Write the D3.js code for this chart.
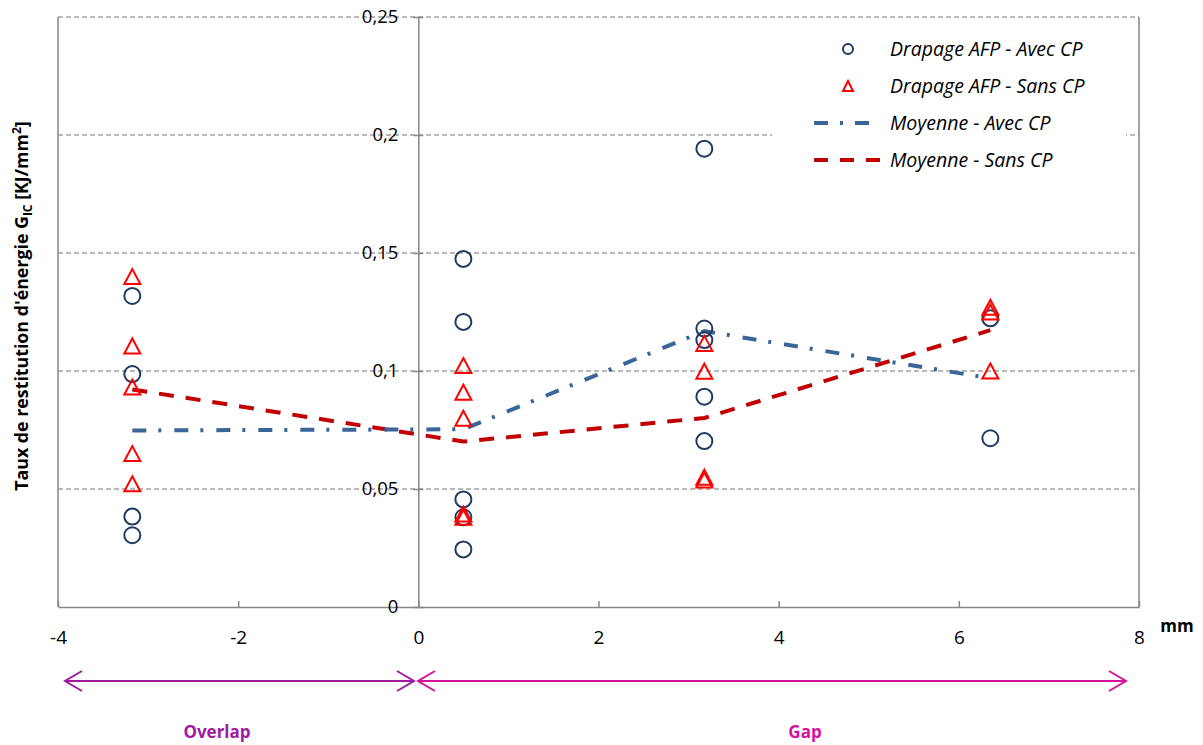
<!DOCTYPE html>
<html><head><meta charset="utf-8">
<script src="https://cdn.jsdelivr.net/npm/d3@7"></script>
<style>
body{margin:0;background:#fff;}
svg{font-family:"Open Sans",sans-serif;}
</style></head>
<body><svg id="c" width="1203" height="745"></svg>
<script>
// x positions (mm)
const xOverlap = -3.175, xGap1 = 0.5, xGap2 = 3.175, xGap3 = 6.35;
// Drapage AFP - Avec CP (circles)
const avecX = [-3.175,-3.175,-3.175,-3.175, 0.5,0.5,0.5,0.5,0.5, 3.175,3.175,3.175,3.175,3.175, 6.35,6.35];
const avecY = [0.1318,0.0987,0.0383,0.0304, 0.1475,0.1208,0.0456,0.038,0.0244, 0.1942,0.118,0.1131,0.0891,0.0703, 0.1223,0.0715];
// Drapage AFP - Sans CP (triangles)
const sansX = [-3.175,-3.175,-3.175,-3.175,-3.175, 0.5,0.5,0.5,0.5,0.5, 3.175,3.175,3.175,3.175, 6.35,6.35,6.35];
const sansY = [0.140,0.1106,0.0932,0.065,0.0522, 0.1023,0.091,0.080,0.0394,0.038, 0.1117,0.0999,0.0550,0.0538, 0.127,0.125,0.100];
// Moyennes
const meanX = [-3.175, 0.5, 3.175, 6.35];
const meanAvec = [0.0748, 0.0753, 0.1169, 0.0969];
const meanSans = [0.0922, 0.0701, 0.0801, 0.1173];
// ticks
const xTicks = [-4,-2,0,2,4,6,8];
const yTicks = [0,0.05,0.1,0.15,0.2,0.25];
const legendLabels = ["Drapage AFP - Avec CP","Drapage AFP - Sans CP","Moyenne - Avec CP","Moyenne - Sans CP"];

const svg = d3.select("#c");
const L=58, R=1139, T=17, B=607;
const x = d3.scaleLinear().domain([-4,8]).range([L,R]);
const y = d3.scaleLinear().domain([0,0.25]).range([B,T]);
const fmt = d => d===0 ? "0" : String(d).replace(".", ",");

// gridlines
svg.append("g").selectAll("line").data(yTicks.filter(d=>d>0)).join("line")
  .attr("x1",L).attr("x2",R).attr("y1",d=>y(d)).attr("y2",d=>y(d))
  .attr("stroke","#a0a0a0").attr("stroke-width",1.3).attr("stroke-dasharray","5,3");

// border left/right
svg.append("line").attr("x1",L).attr("x2",L).attr("y1",T).attr("y2",B).attr("stroke","#868686").attr("stroke-width",1.5);
svg.append("line").attr("x1",R).attr("x2",R).attr("y1",T).attr("y2",B).attr("stroke","#868686").attr("stroke-width",1.5);

// x axis
const xAxis = svg.append("g").attr("transform",`translate(0,${B})`)
  .call(d3.axisBottom(x).tickValues(xTicks).tickSizeInner(-6).tickSizeOuter(0).tickFormat(d=>String(d)));
xAxis.select(".domain").attr("stroke","#868686").attr("stroke-width",1.5);
xAxis.selectAll(".tick line").attr("stroke","#868686").attr("stroke-width",1.5);
xAxis.selectAll(".tick text").attr("font-size",19).attr("fill","#000").attr("y",30).attr("dy","0.35em")
  .attr("font-family","'Open Sans',sans-serif");

// y axis at x=0
const yAxis = svg.append("g").attr("transform",`translate(${x(0)},0)`)
  .call(d3.axisLeft(y).tickValues(yTicks).tickSize(5).tickSizeOuter(0).tickFormat(fmt));
yAxis.select(".domain").attr("stroke","#868686").attr("stroke-width",1.5);
yAxis.selectAll(".tick line").attr("stroke","#868686").attr("stroke-width",1.5).attr("x2",5).attr("x1",-5);
yAxis.selectAll(".tick text").attr("font-size",18.5).attr("fill","#000").attr("x",-20)
  .attr("font-family","'Open Sans',sans-serif");

// mean lines
const line = d3.line().x(d=>x(d[0])).y(d=>y(d[1]));
svg.append("path").datum(meanX.map((d,i)=>[d,meanSans[i]])).attr("d",line)
  .attr("fill","none").attr("stroke","#C00000").attr("stroke-width",4).attr("stroke-dasharray","15,12");
svg.append("path").datum(meanX.map((d,i)=>[d,meanAvec[i]])).attr("d",line)
  .attr("fill","none").attr("stroke","#3A6598").attr("stroke-width",4).attr("stroke-dasharray","14,12,3,13");

// circles
svg.append("g").selectAll("circle").data(avecX.map((d,i)=>[d,avecY[i]])).join("circle")
  .attr("cx",d=>x(d[0])).attr("cy",d=>y(d[1])).attr("r",8)
  .attr("fill","none").attr("stroke","#1F3A63").attr("stroke-width",2);

// triangles
const tri = (cx,cy,w,h)=>`M${cx},${cy-h/2}L${cx+w/2},${cy+h/2}L${cx-w/2},${cy+h/2}Z`;
svg.append("g").selectAll("path").data(sansX.map((d,i)=>[d,sansY[i]])).join("path")
  .attr("d",d=>tri(x(d[0]),y(d[1]),16,15))
  .attr("fill","none").attr("stroke","#FF0000").attr("stroke-width",2);

// legend
const lg = svg.append("g");
lg.append("rect").attr("x",772).attr("y",26).attr("width",354).attr("height",154).attr("fill","#fff");
const ly = [49,86,123,160];
lg.append("circle").attr("cx",848).attr("cy",ly[0]).attr("r",5).attr("fill","none").attr("stroke","#1F3A63").attr("stroke-width",2);
lg.append("path").attr("d",tri(848,ly[1],10,10)).attr("fill","none").attr("stroke","#FF0000").attr("stroke-width",2);
lg.append("line").attr("x1",814).attr("x2",881).attr("y1",ly[2]).attr("y2",ly[2])
  .attr("stroke","#3A6598").attr("stroke-width",4).attr("stroke-dasharray","14,12,3,12");
lg.append("line").attr("x1",814).attr("x2",881).attr("y1",ly[3]).attr("y2",ly[3])
  .attr("stroke","#C00000").attr("stroke-width",4).attr("stroke-dasharray","14,12");
lg.selectAll("text").data(legendLabels).join("text")
  .attr("x",890).attr("y",(d,i)=>ly[i]).attr("dy","0.35em")
  .attr("font-size",19.5).attr("font-style","italic").attr("fill","#000").text(d=>d);

// y title
const yt = svg.append("text").attr("transform","translate(28,306) rotate(-90)")
  .attr("text-anchor","middle").attr("font-size",17.8).attr("font-weight","bold").attr("fill","#000");
yt.append("tspan").text("Taux de restitution d'énergie G");
yt.append("tspan").attr("font-size",12).attr("dy",4).text("IC");
yt.append("tspan").attr("dy",-4).text(" [KJ/mm");
yt.append("tspan").attr("font-size",12).attr("dy",-7).text("2");
yt.append("tspan").attr("dy",7).text("]");

// mm
svg.append("text").attr("x",1177).attr("y",626).attr("dy","0.35em").attr("text-anchor","middle")
  .attr("font-size",17).attr("font-weight","bold").text("mm");

// arrows
function arrow(x1,x2,yy,col){
  const g = svg.append("g").attr("stroke",col).attr("stroke-width",2).attr("fill","none");
  g.append("line").attr("x1",x1).attr("x2",x2).attr("y1",yy).attr("y2",yy);
  g.append("path").attr("d",`M${x1+17},${yy-10}L${x1},${yy}L${x1+17},${yy+10}`);
  g.append("path").attr("d",`M${x2-17},${yy-10}L${x2},${yy}L${x2-17},${yy+10}`);
}
arrow(65,414,681,"#9E1A9E");
arrow(418,1126,681,"#D5119D");
svg.append("text").attr("x",217).attr("y",732).attr("dy","0.35em").attr("text-anchor","middle")
  .attr("font-size",17).attr("font-weight","bold").attr("fill","#9E1A9E").text("Overlap");
svg.append("text").attr("x",805).attr("y",732).attr("dy","0.35em").attr("text-anchor","middle")
  .attr("font-size",17).attr("font-weight","bold").attr("fill","#D5119D").text("Gap");
</script></body></html>
